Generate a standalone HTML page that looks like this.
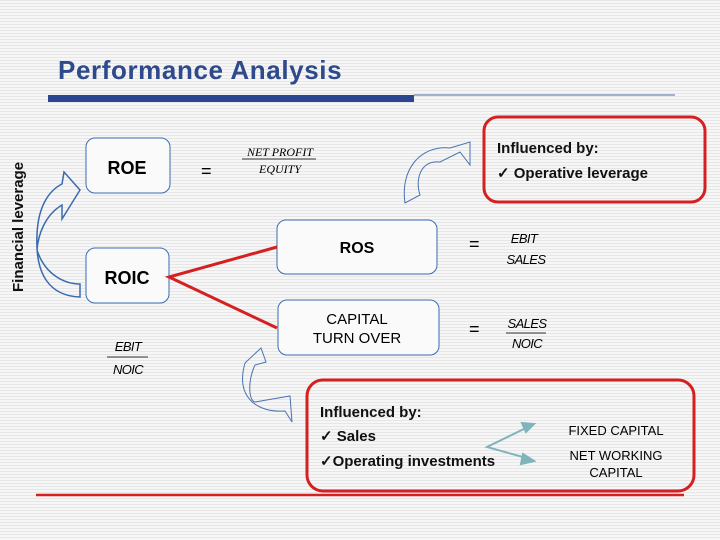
<!DOCTYPE html>
<html><head><style>
body{margin:0;width:720px;height:540px;overflow:hidden;background:#f3f3f3;}
svg{display:block}
text{font-family:"Liberation Sans",Arial,sans-serif}
</style></head><body>
<svg width="720" height="540" viewBox="0 0 720 540">
<defs>
<pattern id="st" width="4" height="3" patternUnits="userSpaceOnUse">
<rect width="4" height="3" fill="#f6f6f6"/><rect width="4" height="1" fill="#e6e6e6"/>
</pattern>
</defs>
<rect width="720" height="540" fill="url(#st)"/>
<text x="58" y="79" font-size="26" font-weight="bold" fill="#2e4a8c" letter-spacing="0.6">Performance Analysis</text>
<rect x="48" y="95" width="366" height="7" fill="#2b4690"/>
<line x1="414" y1="95" x2="675" y2="95" stroke="#4a6aa8" stroke-width="1"/>
<text transform="translate(23,292) rotate(-90)" font-size="15" font-weight="bold" fill="#111">Financial leverage</text>

<g fill="#fafafa" stroke="#3a6bb0" stroke-width="1">
<rect x="86" y="138" width="84" height="55" rx="9"/>
<rect x="86" y="248" width="83" height="55" rx="9"/>
<rect x="277" y="220" width="160" height="54" rx="9"/>
<rect x="278" y="300" width="161" height="55" rx="9"/>
</g>
<text x="127" y="174" font-size="18" font-weight="bold" text-anchor="middle">ROE</text>
<text x="127" y="284" font-size="18" font-weight="bold" text-anchor="middle">ROIC</text>
<text x="357" y="253" font-size="16" font-weight="bold" text-anchor="middle">ROS</text>
<text x="357" y="324" font-size="15" text-anchor="middle">CAPITAL</text>
<text x="357" y="343" font-size="15" text-anchor="middle">TURN OVER</text>

<polyline points="277,247 169,277 277,328" fill="none" stroke="#d42020" stroke-width="3"/>

<text x="201" y="177" font-size="18">=</text>
<text x="469" y="250" font-size="18">=</text>
<text x="469" y="335" font-size="18">=</text>
<text x="280" y="156" text-anchor="middle" font-size="12" font-style="italic" style="font-family:'Liberation Serif',serif">NET PROFIT</text>
<line x1="242" y1="159" x2="316" y2="159" stroke="#333"/>
<text x="280" y="173" text-anchor="middle" font-size="12" font-style="italic" style="font-family:'Liberation Serif',serif">EQUITY</text>
<g font-style="italic" font-size="13" letter-spacing="-0.6">
<text x="524" y="243" text-anchor="middle">EBIT</text>
<text x="526" y="264" text-anchor="middle">SALES</text>
<text x="527" y="328" text-anchor="middle">SALES</text>
<line x1="506" y1="333" x2="546" y2="333" stroke="#333"/>
<text x="527" y="348" text-anchor="middle">NOIC</text>
<text x="128" y="351" text-anchor="middle">EBIT</text>
<line x1="107" y1="357" x2="148" y2="357" stroke="#333"/>
<text x="128" y="374" text-anchor="middle">NOIC</text>
</g>

<rect x="484" y="117" width="221" height="85" rx="14" fill="none" stroke="#d42020" stroke-width="3"/>
<text x="497" y="153" font-size="15" font-weight="bold" fill="#111">Influenced by:</text>
<text x="497" y="178" font-size="15" font-weight="bold" fill="#111">✓ Operative leverage</text>

<rect x="307" y="380" width="387" height="111" rx="16" fill="none" stroke="#d42020" stroke-width="3"/>
<line x1="36" y1="495" x2="684" y2="495" stroke="#d42020" stroke-width="2.5"/>
<text x="320" y="417" font-size="15" font-weight="bold" fill="#111">Influenced by:</text>
<text x="320" y="441" font-size="15" font-weight="bold" fill="#111">✓ Sales</text>
<text x="320" y="466" font-size="15" font-weight="bold" fill="#111">✓Operating investments</text>
<text x="616" y="435" font-size="13" text-anchor="middle">FIXED CAPITAL</text>
<text x="616" y="460" font-size="13" text-anchor="middle">NET WORKING</text>
<text x="616" y="477" font-size="13" text-anchor="middle">CAPITAL</text>
<g stroke="#7fb4bb" stroke-width="2" fill="#7fb4bb">
<polyline points="530,426 487,447 530,459" fill="none"/>
<polygon points="534,424 522,423 526,432"/>
<polygon points="534,461 523,454 521,464"/>
</g>

<g fill="none" stroke="#3a6bb0" stroke-width="1.5">
<path d="M80,284 L80,297 C50,296 35,275 37,235 C38,205 50,190 62,184 L64,172 L80,190 L62,219 L62,205 C45,215 38,235 37,250 C45,275 65,284 80,284 Z"/>
</g>
<g fill="none" stroke="#4a72b0" stroke-width="1">
<path d="M405,203 C400,170 420,145 450,148 L470,142 L470,165 L460,152 L440,162 C420,160 415,180 420,195 Z"/>
<path d="M245,363 L261,348 L266,362 L255,365 C248,380 248,400 255,402 L290,396 L292,422 L285,411 C258,413 235,398 245,363 Z"/>
</g>
</svg>
</body></html>
